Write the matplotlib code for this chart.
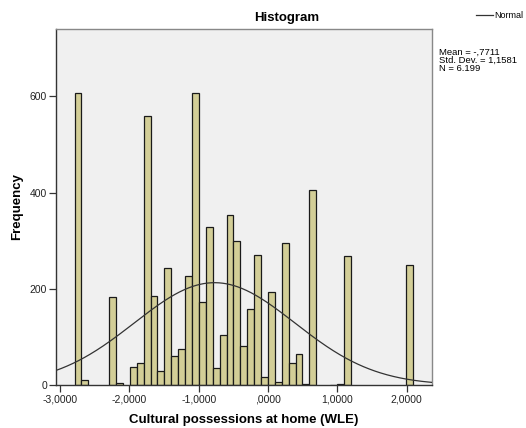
import numpy as np
import matplotlib
matplotlib.use("Agg")
import matplotlib.pyplot as plt

# -------------------------------
# DATA
# -------------------------------
bin_start = -2.79
bin_width = 0.0996
counts = [608, 10, 0, 0, 0, 182, 4, 0, 38, 45,
          559, 185, 29, 244, 60, 74, 226, 606, 173, 328,
          35, 104, 354, 300, 82, 158, 271, 17, 194, 7,
          296, 46, 64, 3, 405, 0, 0, 1, 3, 268,
          0, 0, 0, 0, 0, 0, 0, 0, 249]
mean_val = -0.7711
std_val = 1.1581
n_val = 6199

x_ticks = [-3, -2, -1, 0, 1, 2]
x_tick_labels = ["-3,0000", "-2,0000", "-1,0000", ",0000", "1,0000", "2,0000"]
y_ticks = [0, 200, 400, 600]

plt.rcParams["font.family"] = ["Liberation Sans", "DejaVu Sans"]

# -------------------------------
# Plot
# -------------------------------
fig = plt.figure(figsize=(5.26, 4.28), dpi=100)
ax = fig.add_axes([56 / 526, 1 - 385 / 428, (432 - 56) / 526, (385 - 29) / 428])
ax.set_facecolor("#f0f0f0")

lefts = bin_start + bin_width * np.arange(len(counts))
counts = np.array(counts)
shown = counts > 0
ax.bar(lefts[shown], counts[shown], width=bin_width, align="edge",
       color="#d3ce97", edgecolor="#1a1a1a", linewidth=0.9, zorder=2)

# fitted normal curve
xs = np.linspace(-3.06, 2.37, 400)
dens = n_val * bin_width / (std_val * np.sqrt(2 * np.pi)) * np.exp(-0.5 * ((xs - mean_val) / std_val) ** 2)
ax.plot(xs, dens, color="#333333", linewidth=0.9, zorder=3)

ax.set_xlim(-3.058, 2.365)
ax.set_ylim(0, 740)
ax.set_xticks(x_ticks)
ax.set_xticklabels(x_tick_labels, fontsize=7.5, color="#222222")
ax.set_yticks(y_ticks)
ax.set_yticklabels([str(v) for v in y_ticks], fontsize=7.5, color="#222222")
ax.tick_params(axis="both", length=5, width=0.9, color="#333333", pad=1.5)

for side in ["top", "right"]:
    ax.spines[side].set_color("#888888")
for side in ["left", "bottom"]:
    ax.spines[side].set_color("#333333")
for sp in ax.spines.values():
    sp.set_linewidth(1.0)

ax.set_xlabel("Cultural possessions at home (WLE)", fontsize=9.5, fontweight="bold", labelpad=7)
fig.text(17 / 526, 1 - 207 / 428, "Frequency", fontsize=9.5, fontweight="bold",
         rotation=90, ha="center", va="center")

fig.text(287 / 526, 1 - 18 / 428, "Histogram", fontsize=9.5, fontweight="bold",
         ha="center", va="center")

# legend + stats box text
fig.add_artist(plt.Line2D([476 / 526, 493 / 526], [1 - 15 / 428, 1 - 15 / 428],
                          color="#333333", linewidth=0.9))
fig.text(494 / 526, 1 - 15 / 428, "Normal", fontsize=6.5, ha="left", va="center")
fig.text(439 / 526, 1 - 48 / 428,
         "Mean = -,7711\nStd. Dev. = 1,1581\nN = 6.199",
         fontsize=6.8, ha="left", va="top", linespacing=0.86)

fig.savefig("out.png", dpi=100)
